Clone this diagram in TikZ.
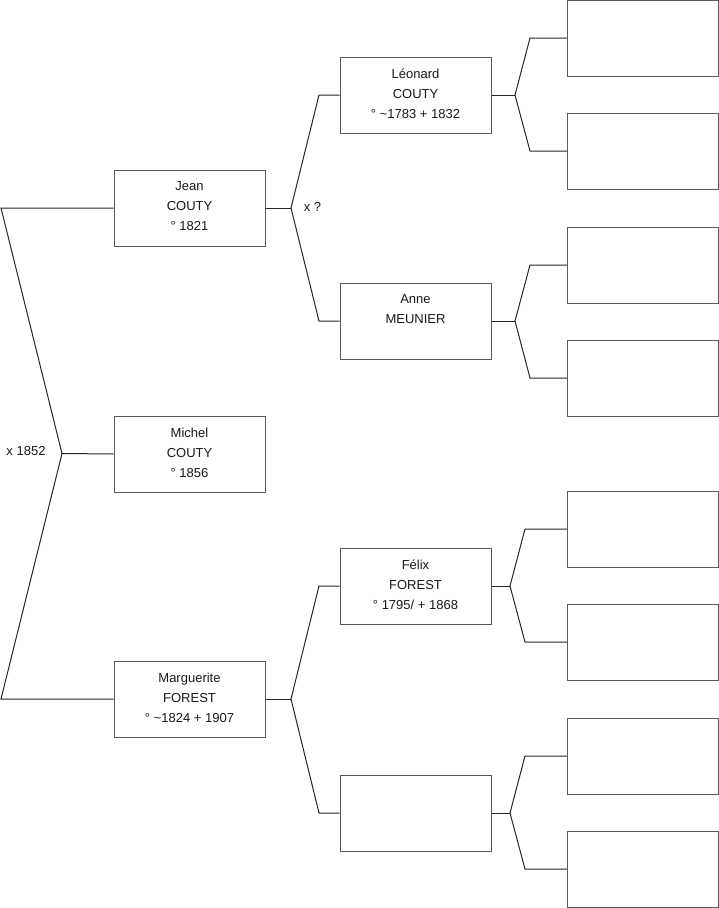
\documentclass[tikz,border=0pt]{standalone}
\usepackage{fontspec}
\setmainfont{Liberation Sans}
\begin{document}
\begin{tikzpicture}[x=1pt,y=-1pt,
  box/.style={draw=black!65,line width=1pt,minimum width=151pt,minimum height=76pt,inner sep=0pt,fill=white},
  txt/.style={anchor=north,align=center,inner sep=0pt,font=\fontsize{13}{20}\selectfont,text=black!90},
  lbl/.style={inner sep=0pt,font=\fontsize{13}{15}\selectfont,text=black!90},
  link/.style={draw=black!85,line width=1pt}]
\useasboundingbox (0,0) rectangle (719,908);
% column 1
\node[box] (jean) at (189.5,208) {};
\node[box] (michel) at (189.5,454) {};
\node[box] (marg) at (189.5,699) {};
% column 2
\node[box] (leo) at (415.5,95) {};
\node[box] (anne) at (415.5,321) {};
\node[box] (felix) at (415.5,586) {};
\node[box] (e2) at (415.5,813) {};
% column 3
\node[box] (r1) at (642.75,38) {};
\node[box] (r2) at (642.75,151) {};
\node[box] (r3) at (642.75,265) {};
\node[box] (r4) at (642.75,378) {};
\node[box] (r5) at (642.75,529) {};
\node[box] (r6) at (642.75,642) {};
\node[box] (r7) at (642.75,756) {};
\node[box] (r8) at (642.75,869) {};
% texts
\node[txt] (tjean) at ([yshift=-12pt]jean.north) {Jean\\COUTY\\° 1821};
\node[txt] (tmichel) at ([yshift=-12pt]michel.north) {Michel\\COUTY\\° 1856};
\node[txt] (tmarg) at ([yshift=-12pt]marg.north) {Marguerite\\FOREST\\° \textasciitilde1824 + 1907};
\node[txt] (tleo) at ([yshift=-12pt]leo.north) {Léonard\\COUTY\\° \textasciitilde1783 + 1832};
\node[txt] (tanne) at ([yshift=-12pt]anne.north) {Anne\\MEUNIER};
\node[txt] (tfelix) at ([yshift=-12pt]felix.north) {Félix\\FOREST\\° 1795/ + 1868};
% fork coordinates
\coordinate (v0) at (62,453.5);
\coordinate (a0) at (1,208);
\coordinate (b0) at (1,699);
\coordinate (v1) at (291,208);
\coordinate (a1) at (319,95);
\coordinate (b1) at (319,321);
\coordinate (v2) at (291,699);
\coordinate (a2) at (319,586);
\coordinate (b2) at (319,813);
\coordinate (v3) at (515,95);
\coordinate (a3) at (530,38);
\coordinate (b3) at (530,151);
\coordinate (v4) at (515,321);
\coordinate (a4) at (530,265);
\coordinate (b4) at (530,378);
\coordinate (v5) at (510,586);
\coordinate (a5) at (525,529);
\coordinate (b5) at (525,642);
\coordinate (v6) at (510,813);
\coordinate (a6) at (525,756);
\coordinate (b6) at (525,869);
% links
\draw[link] (michel.west) -- (v0);
\draw[link] (jean.west) -- (a0) -- (v0) -- (b0) -- (marg.west);
\draw[link] (jean.east) -- (v1);
\draw[link] (leo.west) -- (a1) -- (v1) -- (b1) -- (anne.west);
\draw[link] (marg.east) -- (v2);
\draw[link] (felix.west) -- (a2) -- (v2) -- (b2) -- (e2.west);
\draw[link] (leo.east) -- (v3);
\draw[link] (r1.west) -- (a3) -- (v3) -- (b3) -- (r2.west);
\draw[link] (anne.east) -- (v4);
\draw[link] (r3.west) -- (a4) -- (v4) -- (b4) -- (r4.west);
\draw[link] (felix.east) -- (v5);
\draw[link] (r5.west) -- (a5) -- (v5) -- (b5) -- (r6.west);
\draw[link] (e2.east) -- (v6);
\draw[link] (r7.west) -- (a6) -- (v6) -- (b6) -- (r8.west);
% labels
\node[lbl] (l1852) at (26,451.5) {x 1852};
\node[lbl] (lq) at (312.5,207) {x ?};
\end{tikzpicture}
\end{document}
